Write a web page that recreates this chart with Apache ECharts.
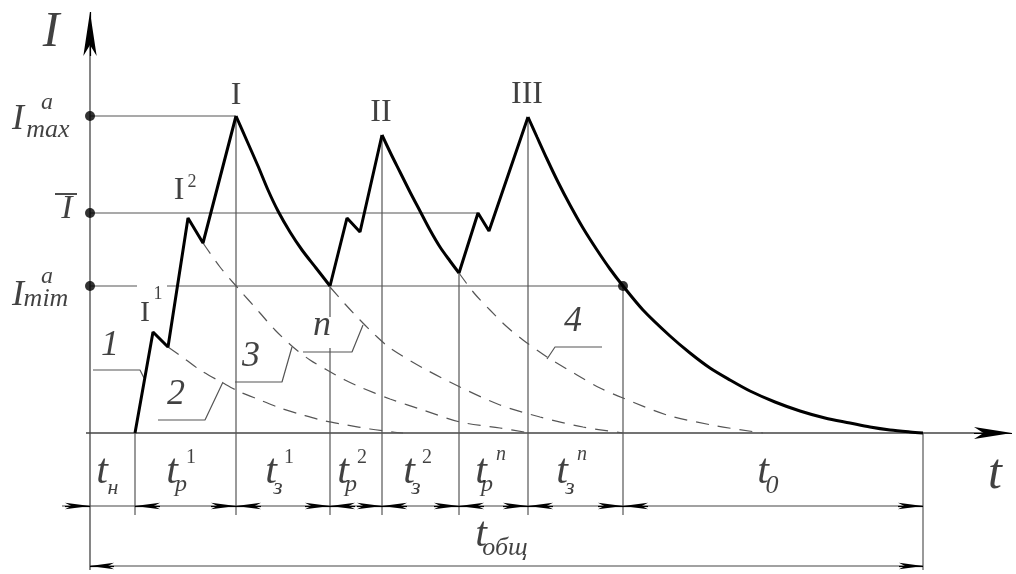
<!DOCTYPE html>
<html><head><meta charset="utf-8">
<script src="https://cdn.jsdelivr.net/npm/echarts@6/dist/echarts.min.js"></script>
<style>html,body{margin:0;padding:0;background:#fff}#c{width:1016px;height:574px}</style>
</head><body><div id="c"></div>
<script>
// ---- data (t, I) ----
const rise1  = [[45,0],[63,101],[78,86],[98,215],[113,190],[146,317]];
const decay1 = [[146,317],[157,292],[168,267],[178,243],[188,222],[200,201],[212,183],[226,165],[240,147]];
const rise2  = [[240,147],[257,215],[270,201],[292,298]];
const decay2 = [[292,298],[301,279],[310,261],[320,241],[330,222],[340,203],[350,186],[360,172],[369,160]];
const rise3  = [[369,160],[388,220],[399,202],[438,316]];
const decay3 = [[438,316],[447,296],[457,274],[468,251],[480,228],[493,205],[507,183],[520,164],[533,147],[553,123],[580,97],[600,80],[620,65],[640,53],[660,42],[685,31],[710,22],[735,15],[760,10],[780,6],[800,3],[820,1],[833,0]];

const dash2 = [[78,86],[95,74],[110,63],[133,50],[150,41],[170,33],[190,25],[213,18],[235,12],[257,8],[280,4],[303,1],[313,0]];
const dash3 = [[113,190],[130,166],[147,146],[170,120],[185,103],[203,86],[220,73],[237,63],[255,53],[270,46],[300,34],[333,23],[370,11],[410,5],[440,0]];
const dashN = [[240,146],[255,129],[270,113],[285,98],[300,85],[333,65],[370,46],[410,28],[450,16],[493,6],[533,0]];
const dash4 = [[369,160],[384,140],[400,123],[416,107],[433,93],[457,76],[487,58],[510,45],[533,35],[577,18],[627,7],[673,0]];

const levels = {max:317, mean:220, min:147};
const marks = [45,146,240,292,369,438,533,833];   // interval boundaries on t
const tEnd = 833;

const lead1 = [[3,63],[50,63],[54,55]];
const lead2 = [[68,13],[115,13],[133,51]];
const lead3 = [[145,51],[192,51],[202,86]];
const leadN = [[213,81],[262,81],[273,108]];
const lead4 = [[512,86],[465,86],[457,74]];

// ---- styling ----
const THIN = '#555';
const FONT = 'Liberation Serif';
const dimRow = -73, totRow = -133, extBottom = -82;

function line(data, o) {
  o = o || {};
  return {type:'line', data:data, symbol:'none', silent:true, animation:false,
    smooth: o.smooth || false, z: o.z || 2,
    lineStyle:{color:o.color||THIN, width:o.width||1.2, type:o.type||'solid'}};
}

const series = [];
// axes
series.push(line([[0,-137],[0,400]], {color:'#444', width:1.3}));
series.push(line([[-4,0],[900,0]], {color:'#444', width:1.3}));
// reference lines
series.push(line([[0,levels.max],[146,levels.max]]));
series.push(line([[0,levels.mean],[388,levels.mean]]));
series.push(line([[0,levels.min],[47,levels.min]]));
series.push(line([[77,levels.min],[533,levels.min]]));
// extension lines
series.push(line([[45,0],[45,extBottom]]));
series.push(line([[146,317],[146,extBottom]]));
series.push(line([[240,147],[240,116]]));
series.push(line([[240,85],[240,extBottom]]));
series.push(line([[292,298],[292,extBottom]]));
series.push(line([[369,160],[369,extBottom]]));
series.push(line([[438,316],[438,extBottom]]));
series.push(line([[533,147],[533,extBottom]]));
series.push(line([[tEnd,0],[tEnd,-137]]));
// dimension lines
series.push(line([[-28,dimRow],[tEnd,dimRow]], {color:'#444'}));
series.push(line([[0,totRow],[tEnd,totRow]], {color:'#444'}));
// overline of mean I
series.push(line([[-35,239],[-13,239]], {color:'#111', width:1.5}));
// leaders
[lead1,lead2,lead3,leadN,lead4].forEach(d=>series.push(line(d)));
// dashed decays
[dash2,dash3,dashN,dash4].forEach(d=>series.push(line(d,{smooth:0.3,type:[13,9],width:1.2,color:'#555'})));
// main curve
[rise1,rise2,rise3].forEach(d=>series.push(line(d,{color:'#000',width:3,z:5})));
[decay1,decay2,decay3].forEach(d=>series.push(line(d,{color:'#000',width:3,z:5,smooth:0.3})));

// arrow heads (tip lands on the end coordinate)
function head(to, dir, size) {
  const from = [to[0]-dir[0]*size[1], to[1]-dir[1]*size[1]];
  return [{coord:from, symbol:'none'}, {coord:to, symbol:'arrow', symbolSize:size}];
}
const small = [5,25];
const heads = [];
heads.push(head([0,421],[0,1],[10,44]));
heads.push(head([922,0],[1,0],[9,38]));
heads.push(head([0,dimRow],[1,0],small));
for (let i=0;i<marks.length-1;i++) {
  heads.push(head([marks[i],dimRow],[-1,0],small));
  heads.push(head([marks[i+1],dimRow],[1,0],small));
}
heads.push(head([0,totRow],[-1,0],[5,24]));
heads.push(head([tEnd,totRow],[1,0],[5,24]));
series.push({type:'line', data:[], silent:true, animation:false, z:6,
  markLine:{silent:true, animation:false, label:{show:false},
    lineStyle:{color:'#000', width:1.2, type:'solid'},
    itemStyle:{color:'#000'},
    emphasis:{disabled:true},
    data: heads}});

// dots
series.push({type:'scatter', silent:true, animation:false, z:6, symbolSize:10,
  itemStyle:{color:'#000'}, data:[[0,levels.max],[0,levels.mean],[0,levels.min],[533,levels.min]]});

// texts: [text, t, I, size, style]
const texts = [
  ['I',-39,400,50,'italic'],
  ['t',905,-42,50,'italic'],
  ['I',-72,313,36,'italic'],['a',-43,330,24,'italic'],['max',-42,303,26,'italic'],
  ['I',-23,224,34,'italic'],
  ['I',-72,137,36,'italic'],['a',-43,156,24,'italic'],['mim',-44,134,26,'italic'],
  ['I',146,337,32,'normal'],['II',291,320,32,'normal'],['III',437,338,32,'normal'],
  ['I',89,242,32,'normal'],['2',102,251,18,'normal'],
  ['I',55,120,30,'normal'],['1',68,139,18,'normal'],
  ['1',20,87,36,'italic'],['2',86,38,36,'italic'],['3',161,76,36,'italic'],['n',232,107,36,'italic'],['4',483,111,36,'italic'],
  ['t',12,-39,42,'italic'],['н',23,-55,22,'italic'],
  ['t',82,-39,42,'italic'],['p',91,-52,24,'italic'],['1',101,-25,20,'normal'],
  ['t',181,-39,42,'italic'],['з',188,-55,24,'italic'],['1',199,-25,20,'normal'],
  ['t',253,-39,42,'italic'],['p',261,-52,24,'italic'],['2',272,-25,20,'normal'],
  ['t',319,-39,42,'italic'],['з',326,-55,24,'italic'],['2',337,-25,20,'normal'],
  ['t',391,-39,42,'italic'],['p',397,-52,24,'italic'],['n',411,-22,20,'italic'],
  ['t',472,-39,42,'italic'],['з',480,-55,24,'italic'],['n',492,-22,20,'italic'],
  ['t',673,-39,42,'italic'],['0',682,-53,26,'italic'],
  ['t',391,-102,42,'italic'],['общ',415,-115,26,'italic']
];
series.push({type:'scatter', silent:true, animation:false, z:10, symbolSize:1,
  itemStyle:{color:'transparent'},
  data: texts.map(([s,x,y,fs,st]) => ({value:[x,y], label:{show:true, position:'inside',
    formatter:s, fontSize:fs, fontStyle:st, fontFamily:FONT, color:'#111',
    align:'center', verticalAlign:'middle'}}))});

const chart = echarts.init(document.getElementById('c'), null, {renderer:'canvas'});
chart.setOption({
  animation:false,
  backgroundColor:'#fff',
  grid:{left:0,right:0,top:0,bottom:0},
  xAxis:{type:'value', min:-90, max:926, show:false},
  yAxis:{type:'value', min:-141, max:433, show:false},
  series: series
});
</script></body></html>
